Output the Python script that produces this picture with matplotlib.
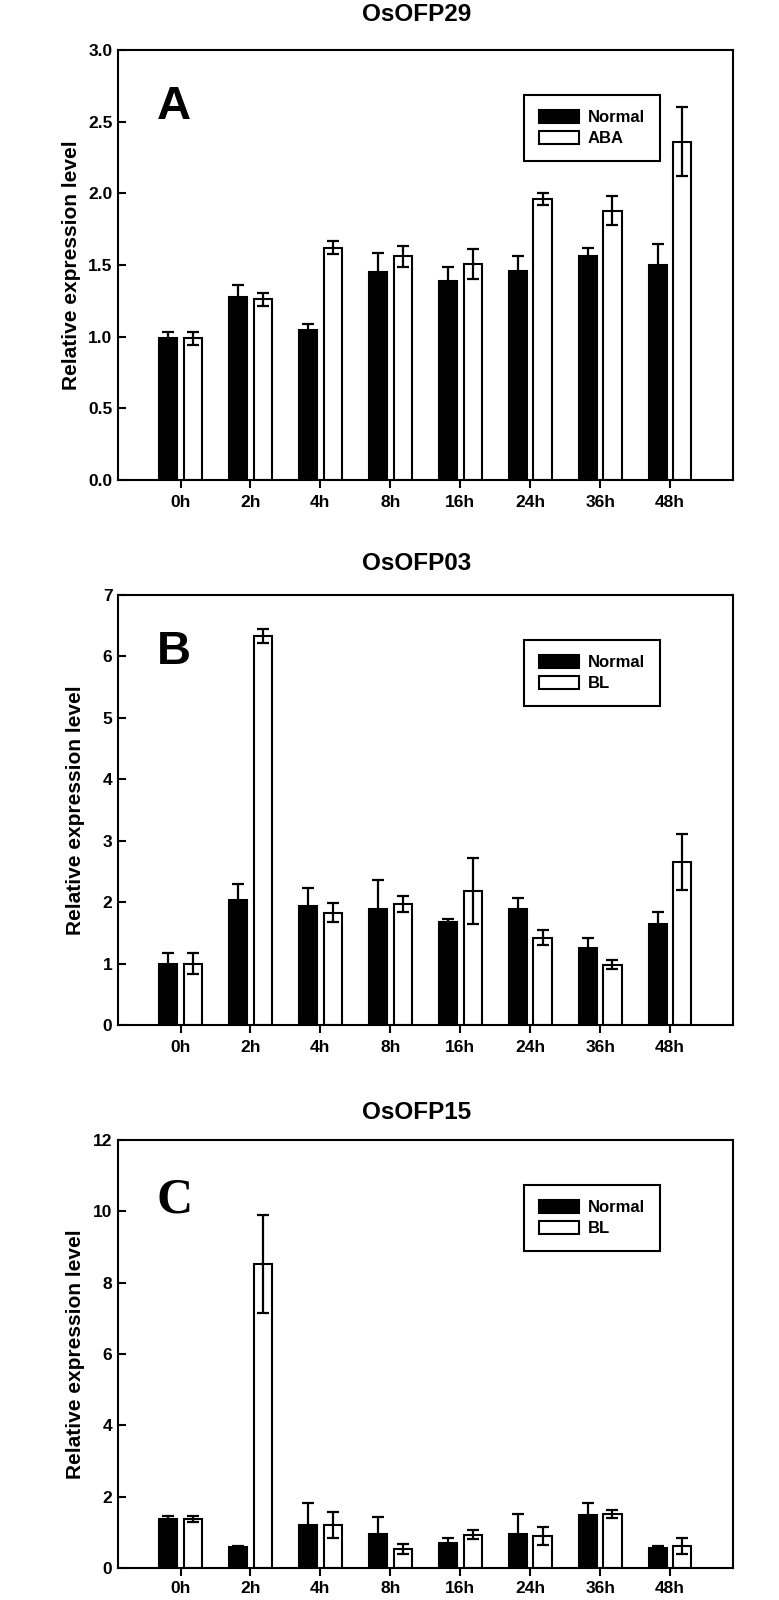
import numpy as np
import matplotlib
matplotlib.use("Agg")
import matplotlib.pyplot as plt

plt.rcParams.update({
    "font.family": ["Liberation Sans", "DejaVu Sans"],
    "font.weight": "bold",
    "axes.linewidth": 1.5,
})

times = ["0h", "2h", "4h", "8h", "16h", "24h", "36h", "48h"]

# panel A - OsOFP29, ABA
a_normal = [0.99, 1.28, 1.05, 1.45, 1.39, 1.46, 1.56, 1.50]
a_normal_err = [0.045, 0.08, 0.035, 0.135, 0.093, 0.105, 0.06, 0.145]
a_treat = [0.99, 1.26, 1.62, 1.56, 1.51, 1.96, 1.88, 2.36]
a_treat_err = [0.045, 0.044, 0.046, 0.072, 0.105, 0.042, 0.103, 0.24]

# panel B - OsOFP03, BL
b_normal = [1.0, 2.03, 1.93, 1.89, 1.68, 1.89, 1.25, 1.64]
b_normal_err = [0.17, 0.26, 0.30, 0.47, 0.05, 0.17, 0.17, 0.195]
b_treat = [1.0, 6.33, 1.83, 1.97, 2.18, 1.42, 0.98, 2.65]
b_treat_err = [0.17, 0.12, 0.15, 0.13, 0.54, 0.12, 0.076, 0.46]

# panel C - OsOFP15, BL
c_normal = [1.38, 0.60, 1.21, 0.96, 0.70, 0.96, 1.48, 0.55]
c_normal_err = [0.08, 0.02, 0.62, 0.47, 0.13, 0.55, 0.35, 0.06]
c_treat = [1.38, 8.53, 1.21, 0.53, 0.93, 0.90, 1.51, 0.61]
c_treat_err = [0.08, 1.37, 0.37, 0.15, 0.13, 0.25, 0.12, 0.22]

panels = [
    dict(title="OsOFP29", letter="A", treat_name="ABA", normal=a_normal, normal_err=a_normal_err,
         treat=a_treat, treat_err=a_treat_err, ylim=(0, 3.0), yticks=np.arange(0, 3.01, 0.5),
         fmt="{:.1f}", rect=[0.1515, 0.700, 0.7895, 0.26875], serif=False,
         title_pad=21, ylab_x=-0.060, xpad=5.5),
    dict(title="OsOFP03", letter="B", treat_name="BL", normal=b_normal, normal_err=b_normal_err,
         treat=b_treat, treat_err=b_treat_err, ylim=(0, 7), yticks=np.arange(0, 8, 1),
         fmt="{:.0f}", rect=[0.1515, 0.3594, 0.7895, 0.26875], serif=False,
         title_pad=18, ylab_x=-0.053, xpad=5.5),
    dict(title="OsOFP15", letter="C", treat_name="BL", normal=c_normal, normal_err=c_normal_err,
         treat=c_treat, treat_err=c_treat_err, ylim=(0, 12), yticks=np.arange(0, 13, 2),
         fmt="{:.0f}", rect=[0.1515, 0.020, 0.7895, 0.2675], serif=True,
         title_pad=15, ylab_x=-0.054, xpad=4),
]

fig = plt.figure(figsize=(7.79, 16), dpi=100)

x = np.arange(len(times))
w = 0.26
off = 0.176

for p in panels:
    ax = fig.add_axes(p["rect"])
    ax.bar(x - off, p["normal"], w, color="black", edgecolor="black", linewidth=1.5, label="Normal")
    ax.bar(x + off, p["treat"], w, color="white", edgecolor="black", linewidth=1.5, label=p["treat_name"])
    ax.errorbar(x - off, p["normal"], yerr=p["normal_err"], fmt="none", ecolor="black",
                elinewidth=1.6, capsize=4, capthick=1.6)
    ax.errorbar(x + off, p["treat"], yerr=p["treat_err"], fmt="none", ecolor="black",
                elinewidth=1.6, capsize=4, capthick=1.6)

    ax.set_xlim(-0.894, 7.9)
    ax.set_ylim(p["ylim"])
    ax.set_yticks(p["yticks"])
    ax.set_yticklabels([p["fmt"].format(v) for v in p["yticks"]])
    ax.set_xticks(x)
    ax.set_xticklabels(times)
    ax.tick_params(axis="y", direction="in", width=1.5, length=5.5, labelsize=12.5, pad=4)
    ax.tick_params(axis="x", direction="out", width=1.5, length=5.5, labelsize=12.5, pad=p["xpad"])
    ax.set_ylabel("Relative expression level", fontsize=15, fontweight="bold")
    ax.yaxis.set_label_coords(p["ylab_x"], 0.5)
    ax.set_title(p["title"], fontsize=17.5, fontweight="bold", pad=p["title_pad"], x=0.486)

    if p["serif"]:
        ax.text(0.063, 0.912, p["letter"], transform=ax.transAxes, fontsize=36,
                family=["Liberation Serif", "DejaVu Serif"], fontweight="bold", va="top")
    else:
        ax.text(0.063, 0.918, p["letter"], transform=ax.transAxes, fontsize=34,
                fontweight="bold", va="top")

    leg = ax.legend(loc="upper right", bbox_to_anchor=(0.881, 0.895), borderaxespad=0,
                    fontsize=12, fancybox=False, edgecolor="black", handlelength=2.4,
                    handleheight=0.8, borderpad=0.9, labelspacing=0.35, handletextpad=0.5)
    leg.get_frame().set_linewidth(1.5)
    leg.get_frame().set_alpha(None)

fig.savefig("out.png", dpi=100)
